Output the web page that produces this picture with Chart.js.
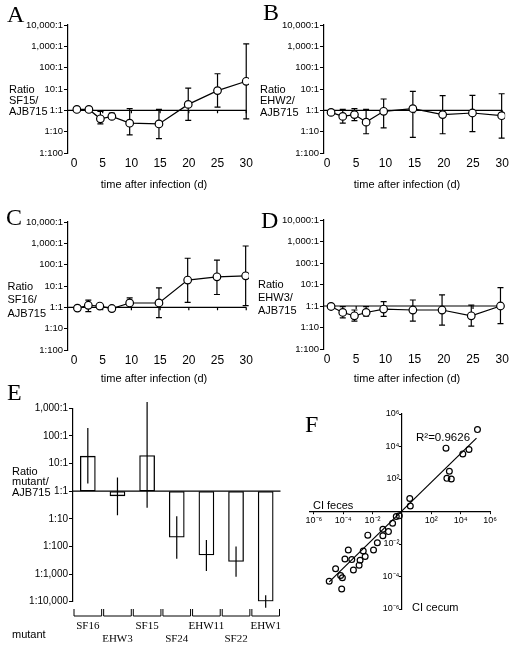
<!DOCTYPE html>
<html>
<head>
<meta charset="utf-8">
<script src="https://cdn.jsdelivr.net/npm/chart.js@4.4.1/dist/chart.umd.min.js"></script>
<style>
  body { margin: 0; background: #fff; }
  #wrap { position: relative; width: 512px; height: 646px; overflow: hidden; font-family: "Liberation Sans", Arial, sans-serif; color: #000; }
  canvas { position: absolute; }
  .t { position: absolute; font-size: 11px; white-space: nowrap; }
  .xl { position: absolute; width: 140px; text-align: center; font-size: 11px; line-height: 11px; }
  .L { position: absolute; font-family: "Liberation Serif", "Times New Roman", serif; font-size: 24px; line-height: 24px; }
</style>
</head>
<body>
<div id="wrap">
  <canvas id="cA" width="256" height="200" style="left:0;top:0"></canvas>
  <canvas id="cB" width="256" height="200" style="left:256px;top:0"></canvas>
  <canvas id="cC" width="256" height="200" style="left:0;top:190px"></canvas>
  <canvas id="cD" width="256" height="200" style="left:256px;top:190px"></canvas>
  <canvas id="cE" width="300" height="266" style="left:0;top:380px"></canvas>
  <canvas id="cF" width="222" height="266" style="left:290px;top:380px"></canvas>

  <div class="L" style="left:7px;top:2px">A</div>
  <div class="L" style="left:263px;top:0px">B</div>
  <div class="L" style="left:6px;top:205px">C</div>
  <div class="L" style="left:261px;top:208px">D</div>
  <div class="L" style="left:7px;top:380px">E</div>
  <div class="L" style="left:305px;top:412px">F</div>

  <div class="t" style="left:9px;top:83.8px;line-height:11px">Ratio<br>SF15/<br>AJB715</div>
  <div class="t" style="left:260px;top:83.5px;line-height:11.7px">Ratio<br>EHW2/<br>AJB715</div>
  <div class="t" style="left:7.5px;top:280px;line-height:13.3px">Ratio<br>SF16/<br>AJB715</div>
  <div class="t" style="left:258px;top:277.7px;line-height:13.3px">Ratio<br>EHW3/<br>AJB715</div>
  <div class="t" style="left:12px;top:465.5px;line-height:10.5px">Ratio<br>mutant/<br>AJB715</div>

  <div class="xl" style="left:84px;top:178.5px">time after infection (d)</div>
  <div class="xl" style="left:337px;top:178.5px">time after infection (d)</div>
  <div class="xl" style="left:84px;top:372.5px">time after infection (d)</div>
  <div class="xl" style="left:337px;top:372.5px">time after infection (d)</div>

  <div class="t" style="left:12px;top:628.5px;line-height:11px">mutant</div>
  <div class="t" style="left:313px;top:499.5px;line-height:11px">CI feces</div>
  <div class="t" style="left:412px;top:601.5px;line-height:11px">CI cecum</div>
  <div class="t" style="left:416px;top:431px;line-height:12px;font-size:11.5px">R²=0.9626</div>
</div>

<script>
Chart.defaults.font.family = '"Liberation Sans", Arial, sans-serif';
Chart.defaults.color = '#000';

// shared axes of A-D
const dayTicks = [0, 5, 10, 15, 20, 25, 30];
const ratioTickVals = [0.01, 0.1, 1, 10, 100, 1000, 10000];
const ratioTickLabels = ['1:100', '1:10', '1:1', '10:1', '100:1', '1,000:1', '10,000:1'];

// A: SF15
const daysA = [0.5, 2.6, 4.6, 6.6, 9.7, 14.8, 19.9, 25, 30];
const ratioA = [1.1, 1.1, 0.4, 0.52, 0.25, 0.23, 1.9, 8.4, 23];
const lowA = [null, null, 0.23, 0.44, 0.07, 0.047, 0.34, 1.4, 0.4];
const highA = [null, null, 0.9, 0.75, 1.2, 1.1, 11, 52, 1300];

// B: EHW2
const daysB = [0.7, 2.7, 4.7, 6.7, 9.7, 14.7, 19.8, 24.9, 29.9];
const ratioB = [0.8, 0.52, 0.63, 0.28, 0.9, 1.2, 0.63, 0.75, 0.56];
const lowB = [null, 0.25, 0.33, 0.08, 0.15, 0.054, 0.08, 0.1, 0.05];
const highB = [null, 1.1, 1.2, 1.1, 3.4, 7.8, 4.9, 5, 6];

// C: SF16
const daysC = [0.6, 2.5, 4.5, 6.6, 9.7, 14.8, 19.8, 24.9, 29.9];
const ratioC = [0.92, 1.25, 1.15, 0.88, 1.6, 1.6, 19, 27, 30];
const lowC = [null, 0.63, null, null, 1.0, 0.33, 1.7, 4, 1.2];
const highC = [null, 2.2, null, null, 2.8, 8.2, 200, 165, 750];

// D: EHW3
const daysD = [0.7, 2.7, 4.7, 6.7, 9.7, 14.7, 19.7, 24.7, 29.7];
const ratioD = [0.95, 0.5, 0.35, 0.5, 0.72, 0.65, 0.65, 0.35, 1.0];
const lowD = [null, 0.28, 0.2, 0.34, 0.33, 0.2, 0.13, 0.115, 0.15];
const highD = [null, 0.93, 0.65, 0.93, 1.6, 1.9, 3.3, 1.1, 7.2];

// E: competitive index per mutant
const mutants = ['SF16', 'EHW3', 'SF15', 'SF24', 'EHW11', 'SF22', 'EHW1'];
const ratioE = [19, 0.66, 20, 0.021, 0.0048, 0.0028, 0.000102];
const lowE = [1.9, 0.135, 0.25, 0.0036, 0.0013, 0.0008, 0.00006];
const highE = [195, 3.1, 1700, 0.125, 0.017, 0.01, 0.00017];
const ratioTickValsE = [0.0001, 0.001, 0.01, 0.1, 1, 10, 100, 1000];
const ratioTickLabelsE = ['1:10,000', '1:1,000', '1:100', '1:10', '1:1', '10:1', '100:1', '1,000:1'];

// F: CI feces vs CI cecum
const ciFeces = [1.4e5, 1.0e3, 1.4e4, 3.7e4, 1.7e3, 1.15e3, 2.3e3, 3.4, 3.7, 0.66, 0.41, 0.23, 0.12, 0.05, 0.05, 0.021,
  0.0047, 0.0115, 0.0023, 0.0031, 0.0014, 0.0012, 0.00049, 0.00038, 0.00022, 0.00013, 3.0e-5, 6.6e-5, 8.7e-5, 1.1e-5, 7.8e-5];
const ciCecum = [1.1e5, 7.9e3, 3.5e3, 6.5e3, 3.0e2, 1.1e2, 1.0e2, 6.3, 2.2, 0.54, 0.49, 0.19, 0.058, 0.081, 0.032, 0.012,
  0.035, 0.0043, 0.0037, 0.0017, 0.001, 0.0005, 0.00025, 0.0011, 0.0043, 0.0012, 3.0e-4, 1.15e-4, 8.3e-5, 5.1e-5, 1.7e-5];
const fitX = [1.1e-5, 1.2e5];
const fitY = [4.7e-5, 3.3e4];
const powTickVals = [1e-6, 1e-4, 1e-2, 1e2, 1e4, 1e6];
const powTickLabels = ['10⁻⁶', '10⁻⁴', '10⁻²', '10²', '10⁴', '10⁶'];

// 1:1 reference line (acts as the x axis line in A-E)
function refLine(xEnd, tickVals) {
  return {
    id: 'refLine',
    beforeDatasetsDraw(chart) {
      const {ctx, chartArea, scales: {x, y}} = chart;
      const py = y.getPixelForValue(1);
      const x1 = xEnd == null ? chartArea.right : x.getPixelForValue(xEnd);
      ctx.save();
      ctx.strokeStyle = '#000';
      ctx.lineWidth = 1.2;
      ctx.beginPath();
      ctx.moveTo(chartArea.left, py);
      ctx.lineTo(x1, py);
      (tickVals || []).forEach(v => {
        const px = x.getPixelForValue(v);
        ctx.moveTo(px, py);
        ctx.lineTo(px, py + 3);
      });
      ctx.stroke();
      ctx.restore();
    }
  };
}

function errorBars(xs, low, high, cap) {
  return {
    id: 'errorBars',
    beforeDatasetsDraw(chart) {
      const {ctx, scales: {x, y}} = chart;
      ctx.save();
      ctx.strokeStyle = '#000';
      ctx.lineWidth = 1.2;
      ctx.beginPath();
      low.forEach((lo, i) => {
        if (lo == null) return;
        const px = x.getPixelForValue(xs ? xs[i] : i);
        const y0 = y.getPixelForValue(lo), y1 = y.getPixelForValue(high[i]);
        ctx.moveTo(px, y0);
        ctx.lineTo(px, y1);
        if (cap) {
          ctx.moveTo(px - cap, y0); ctx.lineTo(px + cap, y0);
          ctx.moveTo(px - cap, y1); ctx.lineTo(px + cap, y1);
        }
      });
      ctx.stroke();
      ctx.restore();
    }
  };
}

function linePanel(id, days, ratio, low, high, xMin, pad) {
  return new Chart(document.getElementById(id), {
    type: 'scatter',
    data: {
      datasets: [{
        data: days.map((d, i) => ({x: d, y: ratio[i]})),
        showLine: true,
        borderColor: '#000',
        borderWidth: 1.2,
        pointRadius: 3.8,
        pointBackgroundColor: '#fff',
        pointBorderColor: '#000',
        pointBorderWidth: 1.2
      }]
    },
    options: {
      responsive: false,
      animation: false,
      layout: {padding: pad},
      plugins: {legend: {display: false}, tooltip: {enabled: false}},
      scales: {
        x: {
          type: 'linear', min: xMin, max: 30.5,
          afterBuildTicks: s => { s.ticks = dayTicks.map(v => ({value: v})); },
          afterFit: s => { s.height = 20; },
          grid: {display: false, drawTicks: false},
          border: {display: false},
          ticks: {font: {size: 12}, padding: 3, maxRotation: 0}
        },
        y: {
          type: 'logarithmic', min: 0.01, max: 10000,
          afterBuildTicks: s => { s.ticks = ratioTickVals.map(v => ({value: v})); },
          afterFit: s => { s.width = 60; },
          grid: {drawOnChartArea: false, tickLength: 4, color: '#000'},
          border: {color: '#000', width: 1.2},
          ticks: {font: {size: 9.5}, padding: 1, callback: (v, i) => ratioTickLabels[i]}
        }
      }
    },
    plugins: [refLine(30, dayTicks.slice(1)), errorBars(days, low, high, 3)]
  });
}

linePanel('cA', daysA, ratioA, lowA, highA, -1.04, {left: 8, right: 6, top: 25, bottom: 27});
linePanel('cB', daysB, ratioB, lowB, highB, -0.51, {left: 8, right: 6, top: 25, bottom: 27});
linePanel('cC', daysC, ratioC, lowC, highC, -1.04, {left: 8, right: 6, top: 32, bottom: 20});
linePanel('cD', daysD, ratioD, lowD, highD, -0.51, {left: 8, right: 6, top: 30, bottom: 21});

// E: floating bars from 1:1
const brackets = {
  id: 'brackets',
  afterDraw(chart) {
    const {ctx, chartArea, scales: {x}} = chart;
    const w = (chartArea.right - chartArea.left) / mutants.length;
    const yb = chartArea.bottom + 14.3;
    ctx.save();
    ctx.strokeStyle = '#000';
    ctx.lineWidth = 1;
    ctx.beginPath();
    mutants.forEach((m, i) => {
      const c = x.getPixelForValue(i);
      const l = c - w / 2 + 1, r = c + w / 2 - 1;
      ctx.moveTo(l, yb - 7); ctx.lineTo(l, yb); ctx.lineTo(r, yb); ctx.lineTo(r, yb - 7);
    });
    ctx.stroke();
    ctx.restore();
  }
};

new Chart(document.getElementById('cE'), {
  type: 'bar',
  data: {
    labels: mutants.map((m, i) => i % 2 ? ['', m] : [m, '']),
    datasets: [{
      data: ratioE.map(v => [1, v]),
      backgroundColor: 'rgba(255,255,255,0)',
      borderColor: '#000',
      borderWidth: 1.3,
      borderSkipped: false,
      barPercentage: 0.53,
      categoryPercentage: 1
    }]
  },
  options: {
    responsive: false,
    animation: false,
    layout: {padding: {left: 3, right: 9, top: 28.3, bottom: 4.3}},
    plugins: {legend: {display: false}, tooltip: {enabled: false}},
    scales: {
      x: {
        afterFit: s => { s.height = 40; },
        grid: {display: false, drawTicks: false},
        border: {display: false},
        ticks: {font: {family: '"Liberation Serif", "Times New Roman", serif', size: 11, lineHeight: 1.15},
                padding: 18.4, maxRotation: 0, autoSkip: false}
      },
      y: {
        type: 'logarithmic', min: 0.0001, max: 1000,
        afterBuildTicks: s => { s.ticks = ratioTickValsE.map(v => ({value: v})); },
        afterFit: s => { s.width = 70; },
        grid: {drawOnChartArea: false, tickLength: 4, color: '#000'},
        border: {color: '#000', width: 1.2},
        ticks: {font: {size: 10}, padding: 1, callback: (v, i) => ratioTickLabelsE[i]}
      }
    }
  },
  plugins: [refLine(null, null), errorBars(null, lowE, highE, 0), brackets]
});

// F: y tick labels sit just left of the centred y axis
const yLabelsF = {
  id: 'yLabelsF',
  afterDraw(chart) {
    const {ctx, scales: {x, y}} = chart;
    const ax = x.getPixelForValue(1);
    ctx.save();
    ctx.fillStyle = '#000';
    ctx.font = '9px "Liberation Sans", Arial, sans-serif';
    ctx.textAlign = 'right';
    ctx.textBaseline = 'middle';
    powTickVals.forEach((v, i) => ctx.fillText(powTickLabels[i], ax - 2.5, y.getPixelForValue(v)));
    ctx.restore();
  }
};

new Chart(document.getElementById('cF'), {
  type: 'scatter',
  data: {
    datasets: [{
      data: ciFeces.map((v, i) => ({x: v, y: ciCecum[i]})),
      pointRadius: 2.9,
      pointBorderWidth: 1.2,
      pointBackgroundColor: 'rgba(255,255,255,0)',
      pointBorderColor: '#000'
    }, {
      data: fitX.map((v, i) => ({x: v, y: fitY[i]})),
      showLine: true,
      pointRadius: 0,
      borderColor: '#000',
      borderWidth: 1.2
    }]
  },
  options: {
    responsive: false,
    animation: false,
    layout: {padding: {left: 20, right: 22, top: 34, bottom: 37}},
    plugins: {legend: {display: false}, tooltip: {enabled: false}},
    scales: {
      x: {
        type: 'logarithmic', min: 5.4e-7, max: 1e6, position: {y: 1},
        afterBuildTicks: s => { s.ticks = powTickVals.map(v => ({value: v})); },
        grid: {drawOnChartArea: false, tickLength: 2, color: '#000'},
        border: {color: '#000', width: 1.2},
        ticks: {font: {size: 9}, padding: 2, maxRotation: 0, autoSkip: false, callback: (v, i) => powTickLabels[i]}
      },
      y: {
        type: 'logarithmic', min: 1e-6, max: 1e6, position: {x: 1},
        afterBuildTicks: s => { s.ticks = powTickVals.map(v => ({value: v})); },
        grid: {drawOnChartArea: false, tickLength: 2, color: '#000'},
        border: {color: '#000', width: 1.2},
        ticks: {display: false}
      }
    }
  },
  plugins: [yLabelsF]
});
</script>
</body>
</html>
